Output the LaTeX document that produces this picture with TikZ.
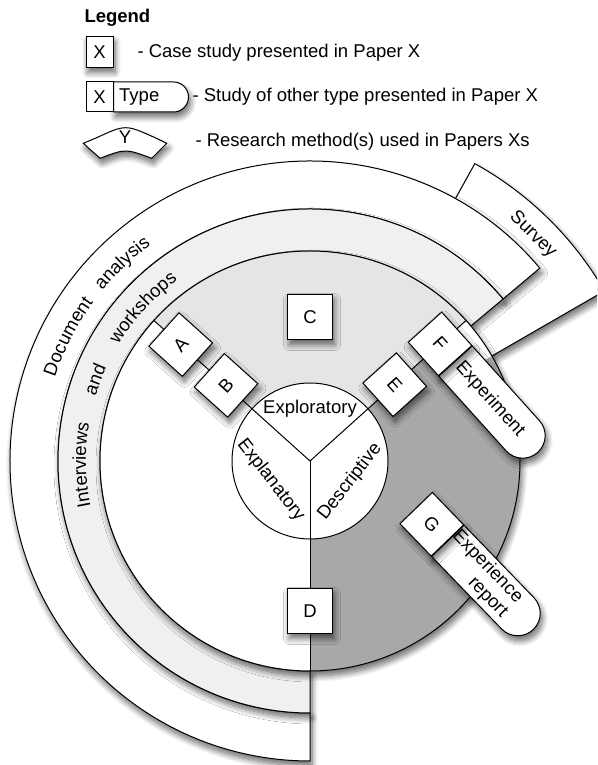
\documentclass[tikz,border=0pt]{standalone}
\usepackage{fontspec}
\setmainfont{Liberation Sans}
\usetikzlibrary{shapes.misc,decorations.text,shadows.blur,calc}
\definecolor{ringgray}{RGB}{240,240,240}
\definecolor{toplight}{RGB}{229,229,229}
\definecolor{sectordark}{RGB}{168,168,168}
\newcommand{\lblfont}{\fontsize{18.5}{21}\selectfont}
\begin{document}
\begin{tikzpicture}[x=1pt,y=1pt,line width=1pt,
  shad/.style={blur shadow={shadow xshift=2pt,shadow yshift=-5pt,shadow blur radius=6pt,shadow blur steps=10,shadow opacity=60}},
  sqbox/.style={draw,fill=white,shad,minimum width=45pt,minimum height=45pt,inner sep=0pt,font=\lblfont},
  capsule/.style={draw,fill=white,shad,rounded rectangle,rounded rectangle west arc=none,minimum height=45pt,minimum width=123pt,inner sep=0pt,font=\lblfont},
  lbl/.style={font=\lblfont,inner sep=0pt},
  ringtext/.style={decorate,decoration={text along path,text align=center,text={|\lblfont|#1}}}
]
\useasboundingbox (0,0) rectangle (597,765);
\clip (0,0) rectangle (597,765);

% ---------- legend ----------
\node[lbl,anchor=base west,font=\lblfont\bfseries] (lgt) at (84,742.5) {Legend};
\node[draw,fill=white,shad,minimum width=27pt,minimum height=31pt,inner sep=0pt,font=\lblfont] (lgX) at (99.5,713) {X};
\node[lbl,anchor=base west] (lg1) at (137,707.5) {- Case study presented in Paper X};
\node[draw,fill=white,shad,rounded rectangle,rounded rectangle west arc=none,minimum height=30pt,minimum width=75pt,inner sep=0pt,font=\lblfont,anchor=west] (lgT) at (113,668) {Type\rule{21pt}{0pt}};
\node[draw,fill=white,minimum width=27pt,minimum height=30pt,inner sep=0pt,font=\lblfont] (lgXT) at (99.5,668) {X};
\node[lbl,anchor=base west] (lg2) at (192,663.5) {- Study of other type presented in Paper X};
\filldraw[fill=white,shad] (96.7,627.3) .. controls (125.5,640.6) .. (155,627.3) -- (166.7,621.7) -- (151.7,606.7) .. controls (125.5,616.4) .. (100,606.7) -- (83.3,621.7) -- cycle;
\node[lbl] (lgY) at (125,628.3) {Y};
\node[lbl,anchor=base west] (lg3) at (195,618.5) {- Research method(s) used in Papers Xs};

% ---------- main figure ----------
\coordinate (O) at (310,304);

% survey
\filldraw[fill=white,shad,shift={(O)}] (30:200) -- (30:340) arc[start angle=30,end angle=61,radius=340] -- (61:200) arc[start angle=61,end angle=30,radius=200] -- cycle;
% document analysis ring
\filldraw[fill=white,shad,shift={(O)}] (40:300) arc[start angle=40,end angle=270,radius=300] -- (270:252) arc[start angle=270,end angle=40,radius=252] -- cycle;
% interviews and workshops ring
\filldraw[fill=ringgray,shad,shift={(O)}] (40:252) arc[start angle=40,end angle=270,radius=252] -- (270:210) arc[start angle=270,end angle=40,radius=210] -- cycle;

% disc with its three sectors
\fill[white,shad] (O) circle[radius=210];
\fill[toplight] (O) -- ++(42:210) arc[start angle=42,end angle=138,radius=210] -- cycle;
\fill[sectordark] (O) -- ++(-90:210) arc[start angle=-90,end angle=42,radius=210] -- cycle;
\fill[white,shift={(O)}] (30:195) -- (30:210) arc[start angle=30,end angle=42,radius=210] -- (42:195) arc[start angle=42,end angle=30,radius=195] -- cycle;
\draw (O) circle[radius=210];
\draw (O) -- ++(138:210);
\draw (O) -- ++(42:210);
\draw (O) -- ++(270:210);

% ring texts
\path[ringtext=Document,shift={(O)}] (172.8:268.4) arc[start angle=172.8,end angle=132.8,radius=268.4];
\path[ringtext=analysis,shift={(O)}] (153.5:268.4) arc[start angle=153.5,end angle=113.5,radius=268.4];
\path[ringtext=Interviews,shift={(O)}] (201:224) arc[start angle=201,end angle=161,radius=224];
\path[ringtext=and,shift={(O)}] (179.2:224) arc[start angle=179.2,end angle=139.2,radius=224];
\path[ringtext=workshops,shift={(O)}] (157.5:224) arc[start angle=157.5,end angle=117.5,radius=224];
\node[lbl,rotate=-44.6] (survey) at ($(O)+(45.4:317.5)$) {Survey};

% core circle
\node[circle,draw,fill=white,minimum size=156pt,inner sep=0pt] (core) at (O) {};
\draw (O) -- ++(138:78);
\draw (O) -- ++(42:78);
\draw (O) -- ++(270:78);
\node[lbl] (expl) at (310,356) {Exploratory};
\node[lbl,rotate=-52] (expn) at (270.8,285) {Explanatory};
\node[lbl,rotate=52] (desc) at (350,283.3) {Descriptive};

% case study boxes
\node[sqbox,rotate=48] (A) at ($(O)+(138:174)$) {A};
\node[sqbox,rotate=48] (B) at ($(O)+(138:113)$) {B};
\node[sqbox] (C) at ($(O)+(90:144)$) {C};
\node[sqbox] (D) at ($(O)+(270:150)$) {D};
\node[sqbox,rotate=-48] (E) at ($(O)+(42:114)$) {E};

% F + Experiment
\begin{scope}[shift={($(O)+(42:175)$)},rotate=-48,transform shape]
  \node[capsule,anchor=west] (Fx) at (22.5,0) {Experiment\rule{18pt}{0pt}};
  \node[sqbox] (F) at (0,0) {F};
\end{scope}

% G + Experience report
\begin{scope}[shift={(431.8,240.7)},rotate=-46,transform shape]
  \node[capsule,anchor=west,align=right,minimum width=122pt] (Gx) at (22.5,0) {Experience\rule{20pt}{0pt}\\report\rule{20pt}{0pt}};
  \node[sqbox] (G) at (0,0) {G};
\end{scope}
\end{tikzpicture}
\end{document}
